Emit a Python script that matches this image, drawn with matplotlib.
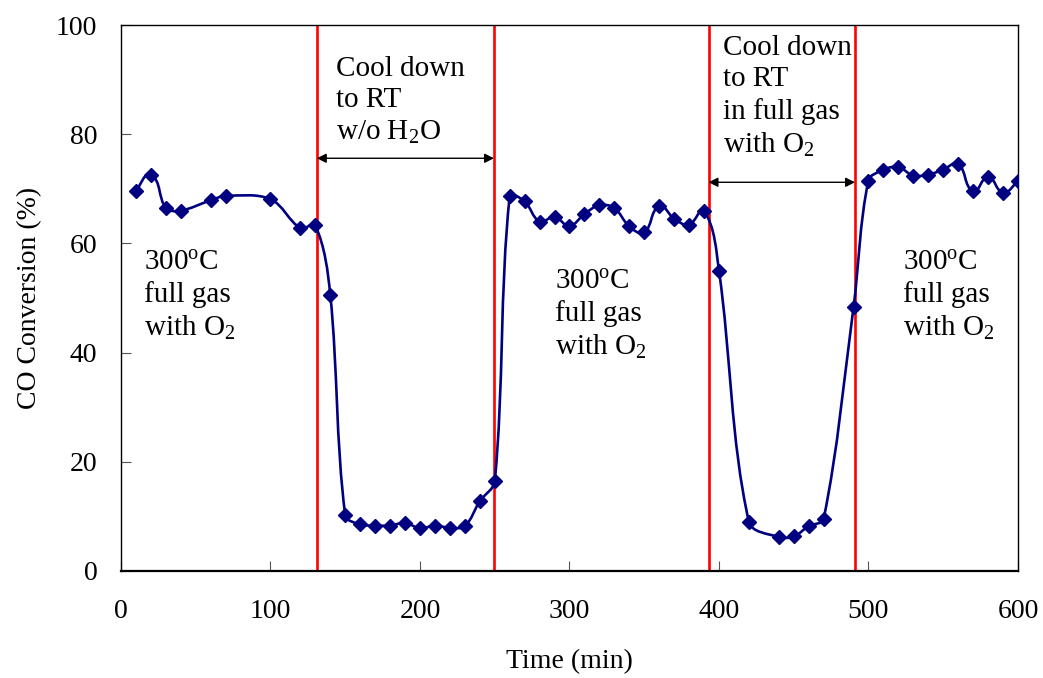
import numpy as np
import matplotlib
matplotlib.use("Agg")
import matplotlib.pyplot as plt
from matplotlib.path import Path
from matplotlib.patches import PathPatch

plt.rcParams["font.family"] = ["Liberation Serif", "DejaVu Serif"]
plt.rcParams["mathtext.fontset"] = "custom"
plt.rcParams["mathtext.rm"] = "Liberation Serif"
plt.rcParams["mathtext.it"] = "Liberation Serif:italic"

# CO conversion (%) vs time (min)
time_min = [10, 20, 30, 40, 60, 70, 100, 120, 130, 140,
            150, 160, 170, 180, 190, 200, 210, 220, 230, 240, 250,
            260, 270, 280, 290, 300, 310, 320, 330, 340, 350, 360, 370, 380, 390,
            400, 420, 440, 450, 460, 470, 490,
            500, 510, 520, 530, 540, 550, 560, 570, 580, 590, 600, 610]
conversion = [69.6, 72.6, 66.5, 66.0, 67.9, 68.7, 68.1, 62.8, 63.3, 50.6,
              10.2, 8.5, 8.3, 8.3, 8.8, 7.8, 8.3, 7.9, 8.2, 12.8, 16.4,
              68.6, 67.7, 64.0, 64.9, 63.2, 65.4, 67.0, 66.5, 63.1, 62.0, 66.8, 64.5, 63.4, 66.0,
              55.0, 9.0, 6.2, 6.3, 8.2, 9.5, 48.3,
              71.5, 73.5, 74.0, 72.4, 72.6, 73.5, 74.6, 69.6, 72.2, 69.3, 71.5, 74.5]

# condition switch times (min)
switch_times = [131, 249.5, 393, 491]
arrow_spans = [(131, 249.5, 75.6), (393, 491, 71.2)]

# (x, baseline of last line, text)
labels = [
    (15.5, 43.0, "300$^{\\mathrm{o}}$C\nfull gas\nwith O$_2$"),
    (290.5, 39.5, "300$^{\\mathrm{o}}$C\nfull gas\nwith O$_2$"),
    (523, 43.0, "300$^{\\mathrm{o}}$C\nfull gas\nwith O$_2$"),
    (144, 79.0, "Cool down\nto RT\nw/o H$_2$O"),
    (403, 76.6, "Cool down\nto RT\nin full gas\nwith O$_2$"),
]


def smooth_path(ax, x, y, t=1 / 3):
    # smoothed line drawn as cubic Bezier segments through the points,
    # control points sized by chord length in screen space (no big overshoot)
    trans = ax.transData
    pts = trans.transform(np.column_stack([x, y]).astype(float))
    n = len(pts)
    tang = []
    for i in range(n):
        a = pts[max(i - 1, 0)]
        b = pts[min(i + 1, n - 1)]
        d = b - a
        tang.append(d / np.hypot(*d))
    verts = [pts[0]]
    codes = [Path.MOVETO]
    for i in range(n - 1):
        p1, p2 = pts[i], pts[i + 1]
        L = np.hypot(*(p2 - p1)) * t
        verts += [p1 + tang[i] * L, p2 - tang[i + 1] * L, p2]
        codes += [Path.CURVE4] * 3
    verts = trans.inverted().transform(np.array(verts))
    return Path(verts, codes)


fig = plt.figure(figsize=(10.43, 6.78), dpi=100)
ax = fig.add_axes([0.116, 0.158, 0.86, 0.805])
ax.set_xlim(0, 600)
ax.set_ylim(0, 100)

for xv in switch_times:
    ax.plot([xv, xv], [0, 100], color="#ff0000", lw=1.9, zorder=2)

ax.add_patch(PathPatch(smooth_path(ax, time_min, conversion), fill=False,
                       edgecolor="#000080", lw=1.9, zorder=3))
ax.plot(time_min, conversion, ls="none", marker="D", ms=7.5,
        color="#000080", zorder=4)

for x0, x1, yv in arrow_spans:
    ax.annotate("", xy=(x1, yv), xytext=(x0, yv),
                arrowprops=dict(arrowstyle="<|-|>", color="black", lw=1.0,
                                shrinkA=0, shrinkB=0, mutation_scale=14))

for xv, yv, s in labels:
    ax.text(xv, yv, s, fontsize=21, ha="left", va="baseline", linespacing=1.27)

ax.set_xticks(range(0, 601, 100))
ax.set_yticks(range(0, 101, 20))
ax.tick_params(axis="both", direction="in", length=7, labelsize=20, color="#555555")
ax.tick_params(axis="x", pad=20)
ax.tick_params(axis="y", pad=17)
for sp in ax.spines.values():
    sp.set_linewidth(1.0)
ax.spines["bottom"].set_linewidth(1.6)

ax.set_xlabel("Time (min)", fontsize=20, labelpad=18)
ax.set_ylabel("CO Conversion (%)", fontsize=20, labelpad=10)

fig.savefig("out.png", dpi=100)
